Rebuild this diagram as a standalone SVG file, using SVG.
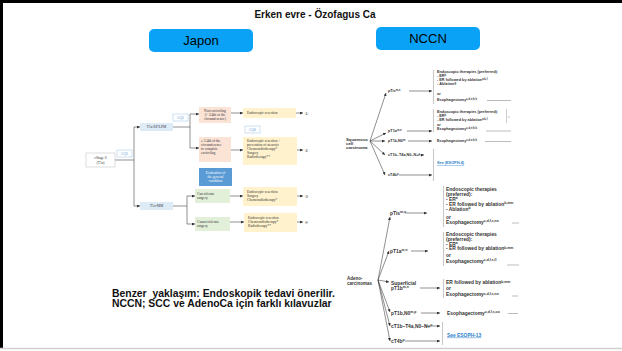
<svg xmlns="http://www.w3.org/2000/svg" width="622" height="351" viewBox="0 0 622 351">
<style>
.jp{font-family:"Liberation Serif",serif;font-size:3.6px;fill:#333}
.jpc{font-family:"Liberation Serif",serif;font-size:3.6px;fill:#333;text-anchor:middle}
.cq{fill:#fff;stroke:#9dc3e6;stroke-width:0.5}
.cqt{font-family:"Liberation Sans",sans-serif;font-size:3.4px;fill:#5b9bd5;text-anchor:middle}
.ln{stroke:#333;stroke-width:0.55;fill:none}
.lna{stroke:#333;stroke-width:0.55;fill:none;marker-end:url(#a)}
.num{font-family:"DejaVu Sans",sans-serif;font-size:4.5px;fill:#555}
.s{font-family:"Liberation Sans",sans-serif;font-size:3.8px;font-weight:bold;fill:#333}
.d{font-family:"Liberation Sans",sans-serif;font-size:4.9px;font-weight:bold;fill:#333}
.br{stroke:#c8c8c8;stroke-width:1.1;fill:none}
.ul{stroke:#555;stroke-width:0.4}
.lk{fill:#2a7fc9;text-decoration:underline}
.sup{font-size:70%}
.btn{fill:#0aa2f7}
.bt{font-family:"Liberation Sans",sans-serif;font-size:13px;fill:#000;text-anchor:middle}
.bot{font-family:"Liberation Sans",sans-serif;font-size:10.4px;font-weight:bold;fill:#111;white-space:pre}
</style>
<defs>
<marker id="a" markerUnits="userSpaceOnUse" markerWidth="3" markerHeight="3" refX="3" refY="1.5" orient="auto"><path d="M0,0 L3,1.5 L0,3 z" fill="#333"/></marker>
</defs>
<rect x="0" y="0" width="622" height="351" fill="#fff"/>
<path d="M1.5,349 V1.5 H622" fill="none" stroke="#000" stroke-width="3"/>
<line x1="0" y1="348.5" x2="622" y2="348.5" stroke="#d0d0d0" stroke-width="1.5"/>

<g id="title"><text x="315" y="17.5" font-family="Liberation Sans,sans-serif" font-size="10" font-weight="bold" text-anchor="middle" fill="#111">Erken evre - Özofagus Ca</text></g>
<g id="japon"><rect class="btn" x="149" y="29" width="104" height="23" rx="5"/><text class="bt" x="201" y="45">Japon</text></g>
<g id="nccn"><rect class="btn" x="376" y="27" width="104" height="23" rx="5"/><text class="bt" x="428" y="43">NCCN</text></g>

<g id="connectors-jp">
<path class="ln" d="M115,160 H134 M134,127 V206"/>
<path class="lna" d="M134,127 H140"/>
<path class="lna" d="M134,206 H140"/>
<path class="ln" d="M173,127 H190 M190,114 V148"/>
<path class="lna" d="M190,114 H199"/>
<path class="lna" d="M190,148 H199"/>
<path class="ln" d="M173,206 H187 M187,196 V224"/>
<path class="lna" d="M187,196 H195"/>
<path class="lna" d="M187,224 H195"/>
<path class="lna" d="M231,113 H243"/>
<path class="lna" d="M231,150 H243"/>
<path class="lna" d="M230,196 H243"/>
<path class="lna" d="M230,222 H244"/>
<path class="lna" d="M296,113 H303"/>
<path class="lna" d="M297,150 H303"/>
<path class="lna" d="M297,196 H303"/>
<path class="lna" d="M297,222 H303"/>
</g>

<g id="jp-stage"><rect x="86" y="153" width="29" height="14" fill="#fff" stroke="#bbb" stroke-width="0.5"/><text class="jpc" x="100.5" y="159">cStage 0</text><text class="jpc" x="100.5" y="163.5">(T1a)</text></g>
<g id="jp-cq5a"><rect class="cq" x="117" y="150" width="15" height="7"/><text class="cqt" x="124.5" y="154.7">CQ5</text></g>
<g id="jp-ep"><rect x="140" y="123" width="33" height="8" fill="#ddebf7"/><text class="jpc" x="156.5" y="128.2">T1a-EP/LPM</text></g>
<g id="jp-mm"><rect x="140" y="202" width="33" height="8" fill="#ddebf7"/><text class="jpc" x="156.5" y="207.2">T1a-MM</text></g>
<g id="jp-cq5b"><rect class="cq" x="173" y="114" width="15" height="7"/><text class="cqt" x="180.5" y="118.7">CQ5</text></g>
<g id="jp-non"><rect x="199" y="107" width="32" height="16" fill="#fbe3d6"/><text class="jpc" x="215" y="111.5">Non-encircling</text><text class="jpc" x="215" y="115.5">(&lt; 3/4th of the</text><text class="jpc" x="215" y="119.5">circumference)</text></g>
<g id="jp-er1"><rect x="243" y="108" width="53" height="10" fill="#fff2cc"/><text class="jp" x="247" y="114">Endoscopic resection</text><text class="num" x="304.5" y="114.6">①</text></g>
<g id="jp-cq6"><rect class="cq" x="245" y="126" width="15" height="7"/><text class="cqt" x="252.5" y="130.7">CQ6</text></g>
<g id="jp-enc"><rect x="199" y="137" width="32" height="25" fill="#fbe3d6"/><text class="jp" x="201" y="142">≥ 3/4th of the</text><text class="jp" x="201" y="146">circumference</text><text class="jp" x="201" y="150">to complete</text><text class="jp" x="201" y="154">encircling</text></g>
<g id="jp-er2"><rect x="243" y="137" width="54" height="28" fill="#fff2cc"/><text class="jp" x="247" y="142">Endoscopic resection +</text><text class="jp" x="247" y="146">prevention of stenosis</text><text class="jp" x="247" y="150">Chemoradiotherapy*</text><text class="jp" x="247" y="154">Surgery</text><text class="jp" x="247" y="158">Radiotherapy**</text><text class="num" x="304.5" y="151.6">②</text></g>
<g id="jp-eval"><rect x="199" y="168" width="33" height="18" fill="#5b9bd5"/><text class="jpc" x="215.5" y="173.5" style="fill:#fff">Evaluation of</text><text class="jpc" x="215.5" y="177.5" style="fill:#fff">the general</text><text class="jpc" x="215.5" y="181.5" style="fill:#fff">condition</text></g>
<g id="jp-can"><rect x="195" y="189" width="35" height="14" fill="#e2f0d9"/><text class="jp" x="197" y="195">Can tolerate</text><text class="jp" x="197" y="199">surgery</text></g>
<g id="jp-er3"><rect x="243" y="187" width="54" height="19" fill="#fff2cc"/><text class="jp" x="247" y="192.5">Endoscopic resection</text><text class="jp" x="247" y="196.5">Surgery</text><text class="jp" x="247" y="200.5">Chemoradiotherapy*</text><text class="num" x="304.5" y="197.6">③</text></g>
<g id="jp-cannot"><rect x="195" y="217" width="35" height="14" fill="#e2f0d9"/><text class="jp" x="197" y="223">Cannot tolerate</text><text class="jp" x="197" y="227">surgery</text></g>
<g id="jp-er4"><rect x="244" y="213" width="53" height="19" fill="#fff2cc"/><text class="jp" x="248" y="218.5">Endoscopic resection</text><text class="jp" x="248" y="222.5">Chemoradiotherapy*</text><text class="jp" x="248" y="226.5">Radiotherapy**</text><text class="num" x="304.5" y="223.6">④</text></g>

<g id="bottom-text">
<text class="bot" x="112" y="296.5">Benzer  yaklaşım: Endoskopik tedavi önerilir.</text>
<text class="bot" x="112" y="307">NCCN; SCC ve AdenoCa için farklı kılavuzlar</text>
</g>

<g id="connectors-nccn">
<path class="lna" d="M370,141 L386,93"/>
<path class="lna" d="M370,141 L386,133"/>
<path class="lna" d="M370,141 L385,141"/>
<path class="lna" d="M370,141 L385,155"/>
<path class="lna" d="M370,141 L385,175"/>
<path class="lna" d="M409,91 H432"/>
<path class="lna" d="M407,131 H432"/>
<path class="lna" d="M408,141 H432"/>
<path class="lna" d="M418,155 H424"/>
<path class="lna" d="M399,175 H432"/>
<path class="lna" d="M378,280 L390,217"/>
<path class="lna" d="M378,280 L389,251"/>
<path class="lna" d="M378,280 L389,282"/>
<path class="lna" d="M378,280 L390,312"/>
<path class="lna" d="M378,280 L390,326"/>
<path class="lna" d="M378,280 L390,341"/>
<path class="lna" d="M405,213 H427"/>
<path class="lna" d="M411,251 H428"/>
<path class="lna" d="M420,288 H440"/>
<path class="lna" d="M421,313 H440"/>
<path class="lna" d="M425,326 H440"/>
<path class="lna" d="M405,341 H440"/>
</g>

<g id="scc">
<text class="s" x="346" y="140.5" style="font-size:4.3px">Squamous</text>
<text class="s" x="346" y="144.7" style="font-size:4.3px">cell</text>
<text class="s" x="346" y="148.9" style="font-size:4.3px">carcinoma</text>
</g>
<g id="scc-ptis">
<text class="s" x="388" y="92.3">pTis<tspan class="sup" dy="-1.2">m,n</tspan></text>
<line class="br" x1="433.5" y1="70" x2="433.5" y2="104"/>
<text class="s" x="437" y="73.3">Endoscopic therapies (preferred):</text>
<text class="s" x="437" y="77.3">- ER<tspan class="sup" dy="-1.2">b</tspan></text>
<text class="s" x="437" y="81.3">- ER followed by ablation<tspan class="sup" dy="-1.2">a,b,f</tspan></text>
<text class="s" x="437" y="85.3">- Ablation<tspan class="sup" dy="-1.2">g</tspan></text>
<text class="s" x="437" y="95.3">or</text>
<text class="s" x="437" y="100.8">Esophagectomy<tspan class="sup" dy="-1.2">c,d,e,h,k</tspan></text>
<line class="ul" x1="487" y1="100.5" x2="511" y2="100.5"/>
</g>
<g id="scc-pt1a">
<text class="s" x="388" y="132.3">pT1a<tspan class="sup" dy="-1.2">m,n</tspan></text>
<line class="br" x1="433.5" y1="109" x2="433.5" y2="132"/>
<text class="s" x="437" y="112.8">Endoscopic therapies (preferred):</text>
<text class="s" x="437" y="116.8">- ER<tspan class="sup" dy="-1.2">b</tspan></text>
<text class="s" x="437" y="120.8">- ER followed by ablation<tspan class="sup" dy="-1.2">a,b,f</tspan></text>
<text class="s" x="437" y="125.8">or</text>
<text class="s" x="437" y="130.3">Esophagectomy<tspan class="sup" dy="-1.2">c,d,e,h,k</tspan></text>
<line class="br" x1="506.5" y1="109" x2="506.5" y2="123" style="stroke-width:0.5;stroke:#999"/>
<line class="ul" x1="508" y1="117" x2="510" y2="117"/>
<line class="ul" x1="486" y1="131" x2="511" y2="131"/>
</g>
<g id="scc-pt1b">
<text class="s" x="388" y="142.3">pT1b,N0<tspan class="sup" dy="-1.2">m</tspan></text>
<text class="s" x="437" y="142.3">Esophagectomy<tspan class="sup" dy="-1.2">c,d,e,h,k</tspan></text>
<line class="ul" x1="485" y1="141.5" x2="511" y2="141.5"/>
</g>
<g id="scc-ct1b"><text class="s" x="388" y="156.3">cT1b–T4a,N0–N+<tspan class="sup" dy="-1.2">o</tspan></text></g>
<g id="scc-ct4b"><text class="s" x="388" y="176.3">cT4b<tspan class="sup" dy="-1.2">p</tspan></text></g>
<g id="scc-see">
<line class="br" x1="433.5" y1="149" x2="433.5" y2="181"/>
<text class="s lk" x="437" y="164.3">See (ESOPH-4)</text>
</g>

<g id="adeno">
<text class="d" x="347" y="279.5" style="font-size:4.5px">Adeno-</text>
<text class="d" x="347" y="284.8" style="font-size:4.5px">carcinomas</text>
</g>
<g id="ad-ptis">
<text class="d" x="390" y="214.6">pTis<tspan class="sup" dy="-1.5">m,n</tspan></text>
<line class="br" x1="443.5" y1="186" x2="443.5" y2="227"/>
<text class="d" x="446" y="190.6">Endoscopic therapies</text>
<text class="d" x="446" y="195.6">(preferred):</text>
<text class="d" x="446" y="200.6">- ER<tspan class="sup" dy="-1.5">a</tspan></text>
<text class="d" x="446" y="205.6">- ER followed by ablation<tspan class="sup" dy="-1.5">b,mm</tspan></text>
<text class="d" x="446" y="210.6">- Ablation<tspan class="sup" dy="-1.5">b</tspan></text>
<text class="d" x="446" y="218.6">or</text>
<text class="d" x="446" y="223.6">Esophagectomy<tspan class="sup" dy="-1.5">c,d,f,s,nn</tspan></text>
<line class="ul" x1="512" y1="223" x2="519" y2="223"/>
</g>
<g id="ad-pt1a">
<text class="d" x="390" y="252.6">pT1a<tspan class="sup" dy="-1.5">m,n</tspan></text>
<line class="br" x1="443.5" y1="232" x2="443.5" y2="266"/>
<text class="d" x="446" y="235.6">Endoscopic therapies</text>
<text class="d" x="446" y="240.6">(preferred):</text>
<text class="d" x="446" y="245.6">- ER<tspan class="sup" dy="-1.5">a</tspan></text>
<text class="d" x="446" y="250.1">- ER followed by ablation<tspan class="sup" dy="-1.5">b,mm</tspan></text>
<text class="d" x="446" y="256.6">or</text>
<text class="d" x="446" y="262.6">Esophagectomy<tspan class="sup" dy="-1.5">c,d,f,s,ll</tspan></text>
<line class="ul" x1="507" y1="265" x2="519" y2="265"/>
</g>
<g id="ad-sup">
<text class="d" x="391" y="284.6">Superficial</text>
<text class="d" x="391" y="289.8">pT1b<tspan class="sup" dy="-1.5">m,n</tspan></text>
<line class="br" x1="443.5" y1="279" x2="443.5" y2="298"/>
<text class="d" x="446" y="284.1">ER followed by ablation<tspan class="sup" dy="-1.5">b,mm</tspan></text>
<text class="d" x="446" y="290.1">or</text>
<text class="d" x="446" y="296.1">Esophagectomy<tspan class="sup" dy="-1.5">c,d,f,s,nn</tspan></text>
<line class="ul" x1="512" y1="296" x2="518" y2="296"/>
</g>
<g id="ad-pt1b">
<text class="d" x="391" y="314.6">pT1b,N0<tspan class="sup" dy="-1.5">m,p</tspan></text>
<text class="d" x="447" y="314.6">Esophagectomy<tspan class="sup" dy="-1.5">c,d,f,s,oo</tspan></text>
<line class="ul" x1="508" y1="313.5" x2="518" y2="313.5"/>
</g>
<g id="ad-ct1b"><text class="d" x="391" y="327.6">cT1b–T4a,N0–N+<tspan class="sup" dy="-1.5">o</tspan></text></g>
<g id="ad-ct4b"><text class="d" x="391" y="342.6">cT4b<tspan class="sup" dy="-1.5">p</tspan></text></g>
<g id="ad-see">
<line class="br" x1="442.5" y1="322" x2="442.5" y2="345"/>
<text class="d lk" x="447" y="336.6">See ESOPH-13</text>
</g>
</svg>
